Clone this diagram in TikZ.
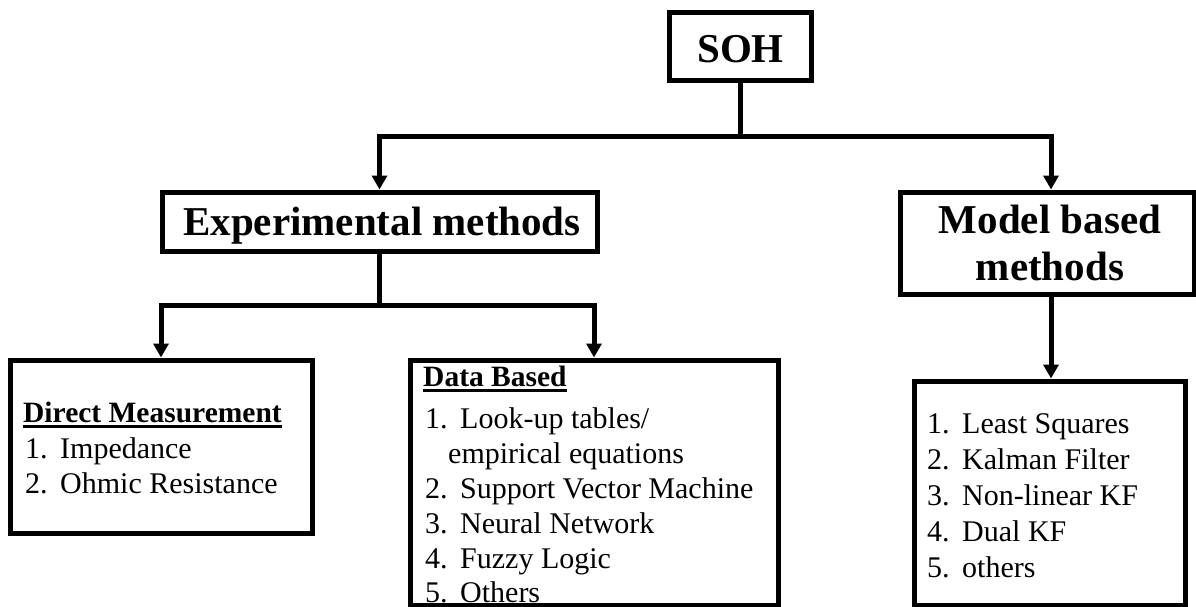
\documentclass[tikz,border=0pt]{standalone}
\usepackage{fontspec}
\setmainfont{Liberation Serif}
\usetikzlibrary{arrows.meta}
% numbered entry: fixed-width label followed by the text
\newcommand{\itm}[1]{\makebox[35pt][l]{#1}}
% heavy underline for the group headings
\newcommand{\hdul}[1]{\setbox0\hbox{#1}\rlap{\rule[-6pt]{\wd0}{2.8pt}}\box0}
\begin{document}
\begin{tikzpicture}[x=1pt,y=-1pt,
  box/.style={draw, line width=5pt, rectangle, inner sep=0pt},
  link/.style={line width=5pt},
  arr/.style={line width=5pt, -{Triangle[width=15pt,length=14pt]}},
  head/.style={font=\fontsize{41}{47}\selectfont\bfseries, anchor=base, inner sep=0pt},
  sub/.style={font=\fontsize{29.5}{35}\selectfont\bfseries, anchor=base west, inner sep=0pt},
  item/.style={font=\fontsize{30}{35}\selectfont, anchor=base west, inner sep=0pt}]
\useasboundingbox (0,0) rectangle (1196,607);

% boxes
\node[box, minimum width=142pt, minimum height=68pt] (soh) at (740.5,46.5) {};
\node[box, minimum width=435pt, minimum height=59pt] (exp) at (379.5,221.5) {};
\node[box, minimum width=294pt, minimum height=102pt] (model) at (1047,243) {};
\node[box, minimum width=302pt, minimum height=173pt] (direct) at (161,446.5) {};
\node[box, minimum width=368pt, minimum height=245pt] (data) at (594,482.5) {};
\node[box, minimum width=271pt, minimum height=224pt] (list) at (1049.5,493) {};

% headings
\node[head] (sohT) at (740.5,63) {SOH};
\node[head] (expT) at (382,235) {Experimental methods};
\node[head] (modelT1) at (1050,233) {Model based};
\node[head] (modelT2) at (1050,280) {methods};

% direct measurement
\node[sub] (dmh) at (23,422) {\hdul{Direct Measurement}};
\node[item] (dm1) at (25,458) {\itm{1.}Impedance};
\node[item] (dm2) at (25,493) {\itm{2.}Ohmic Resistance};

% data based
\node[sub] (dbh) at (423,386) {\hdul{Data Based}};
\node[item] (db1) at (425,428) {\itm{1.}Look-up tables/};
\node[item] (db1b) at (448,463) {empirical equations};
\node[item] (db2) at (425,498) {\itm{2.}Support Vector Machine};
\node[item] (db3) at (425,533) {\itm{3.}Neural Network};
\node[item] (db4) at (425,568) {\itm{4.}Fuzzy Logic};
\node[item] (db5) at (425,602) {\itm{5.}Others};

% model based list
\node[item] (mb1) at (927,433) {\itm{1.}Least Squares};
\node[item] (mb2) at (927,469) {\itm{2.}Kalman Filter};
\node[item] (mb3) at (927,505) {\itm{3.}Non-linear KF};
\node[item] (mb4) at (927,541) {\itm{4.}Dual KF};
\node[item] (mb5) at (927,577) {\itm{5.}others};

% connectors
\coordinate (j1) at (740.5,137);
\coordinate (mx) at (1051,137);
\coordinate (j2) at (379.5,305);
\draw[link] (soh.south) -- (j1);
\draw[arr] (j1) -| (exp.north);
\draw[arr] (j1) -| (mx |- model.north);
\draw[link] (exp.south) -- (j2);
\draw[arr] (j2) -| (direct.north);
\draw[arr] (j2) -| (data.north);
\draw[arr] (model.south -| mx) -- (list.north -| mx);
\end{tikzpicture}
\end{document}
